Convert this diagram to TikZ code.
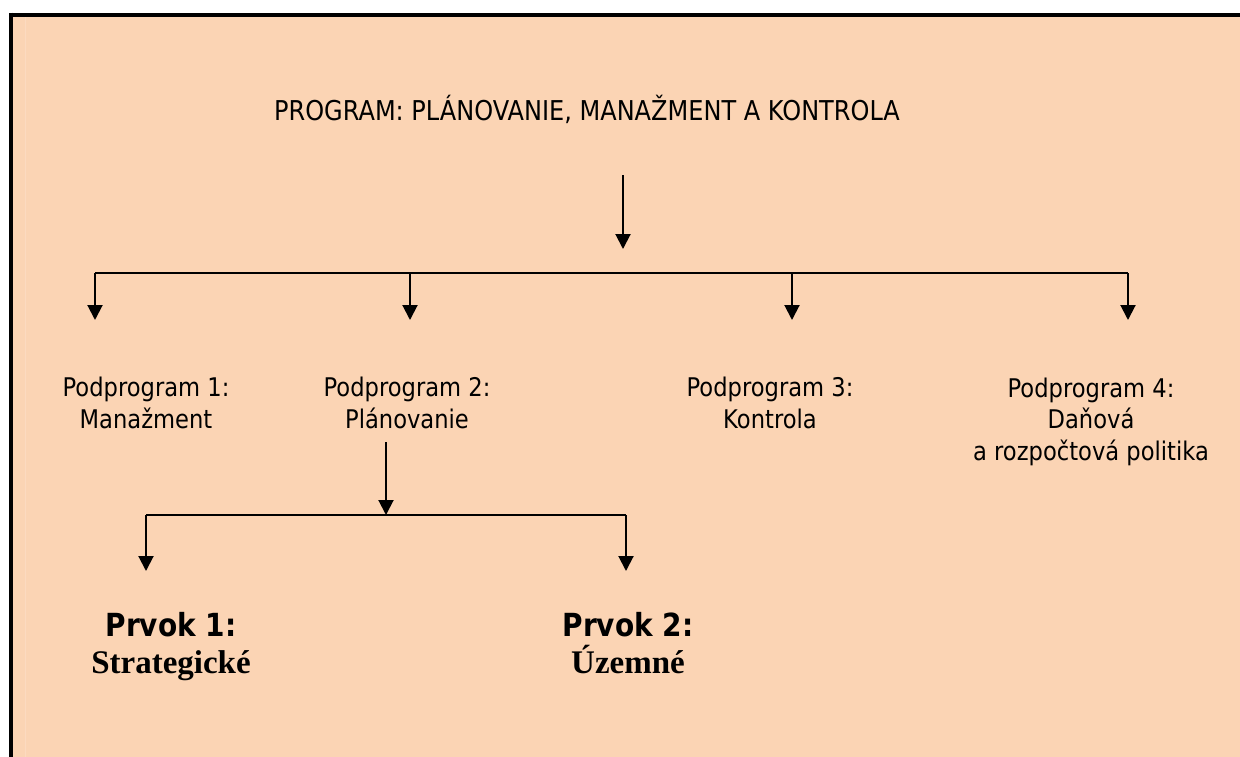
\documentclass[tikz,border=0pt]{standalone}
\usepackage{fontspec}
\setmainfont{DejaVu Sans}[FakeStretch=0.88]
\newfontfamily\serifbold{Liberation Serif}
\usetikzlibrary{arrows.meta}
\definecolor{peach}{HTML}{FBD4B4}
\definecolor{peachlight}{HTML}{FCDAC0}
\tikzset{
  x=1pt, y=-1pt,
  link/.style={line width=2pt, draw=black},
  arr/.style={link, -{Triangle[width=15pt,length=15pt]}},
  heading/.style={inner sep=0pt, anchor=base, font=\fontsize{27.3}{31}\selectfont},
  % anchor=base of a multi-line node sits on its last line
  subprog/.style={inner sep=0pt, anchor=base, align=center, font=\fontsize{25.7}{31.5}\selectfont},
  element/.style={inner sep=0pt, anchor=base, align=center, font=\fontsize{31.8}{37}\selectfont\bfseries},
}
\begin{document}
\begin{tikzpicture}
\useasboundingbox (0,0) rectangle (1240,756);
% page frame
\fill[peach] (11,14.5) rectangle (1250,766);
\draw[peachlight, line width=1pt] (25,17) -- (25,766);
\draw[line width=4pt] (9,14.5) -- (1250,14.5);
\draw[line width=4pt] (11,12.5) -- (11,766);

% title
\node[heading] (prog) at (587,120) {PROGRAM: PLÁNOVANIE, MANAŽMENT A KONTROLA};

% subprograms
\node[subprog] (p1) at (146,428) {Podprogram 1:\\Manažment};
\node[subprog] (p2) at (407,428) {Podprogram 2:\\Plánovanie};
\node[subprog] (p3) at (770,428) {Podprogram 3:\\Kontrola};
\node[subprog] (p4) at (1091,460) {Podprogram 4:\\Daňová\\a rozpočtová politika};

% elements
\node[element] (e1) at (171,673) {Prvok 1:\\{\serifbold\fontsize{33}{37}\selectfont Strategické}};
\node[element] (e2) at (628,673) {Prvok 2:\\{\serifbold\fontsize{33}{37}\selectfont Územné}};

% connector points
\coordinate (m0) at (623,175);
\coordinate (m1) at (623,249);
\coordinate (b1) at (95,273);
\coordinate (b2) at (410,273);
\coordinate (b3) at (792,273);
\coordinate (b4) at (1128,273);
\coordinate (t1) at (95,320);
\coordinate (t2) at (410,320);
\coordinate (t3) at (792,320);
\coordinate (t4) at (1128,320);
\coordinate (s0) at (386,442);
\coordinate (s1) at (386,515);
\coordinate (c1) at (146,515);
\coordinate (c2) at (626,515);
\coordinate (u1) at (146,571);
\coordinate (u2) at (626,571);

% connectors
\draw[arr] (m0) -- (m1);
\draw[link] (b1) -- (b4);
\draw[arr] (b1) -- (t1);
\draw[arr] (b2) -- (t2);
\draw[arr] (b3) -- (t3);
\draw[arr] (b4) -- (t4);
\draw[arr] (s0) -- (s1);
\draw[link] (c1) -- (c2);
\draw[arr] (c1) -- (u1);
\draw[arr] (c2) -- (u2);
\end{tikzpicture}
\end{document}
